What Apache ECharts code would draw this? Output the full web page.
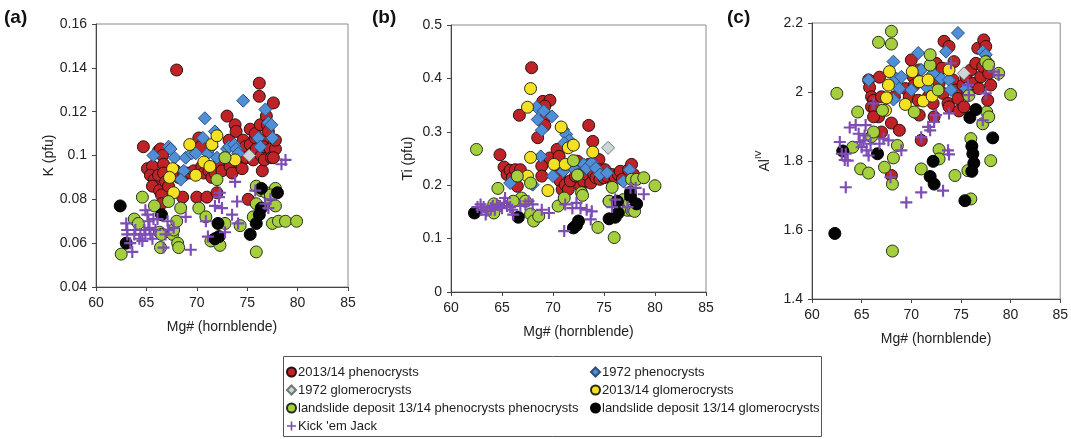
<!DOCTYPE html>
<html><head><meta charset="utf-8">
<script src="https://cdn.jsdelivr.net/npm/echarts@6/dist/echarts.min.js"></script>
<style>html,body{margin:0;padding:0;background:#fff}#c{width:1071px;height:439px}</style>
</head><body><div id="c"></div>
<script>
// ---------- Data (x = Mg#, y = value) ----------
const seriesNames = ['2013/14 phenocrysts','1972 phenocrysts','1972 glomerocrysts','2013/14 glomerocrysts','landslide deposit 13/14 phenocrysts phenocrysts','landslide deposit 13/14 glomerocrysts',"Kick 'em Jack"];
const xTicks = [60,65,70,75,80,85];

// Panel (a) K (pfu)
const aRed = [[64.7,0.104],[65.1,0.094],[65.6,0.095],[65.4,0.091],[65.8,0.089],[65.6,0.086],[66.2,0.102],[66.4,0.103],[66.6,0.100],[66.2,0.091],[66.3,0.084],[66.5,0.082],[66.7,0.096],[66.7,0.092],[66.9,0.088],[67.2,0.086],[67.9,0.093],[68.2,0.090],[68.6,0.081],[68.0,0.139],[68.7,0.091],[69.0,0.092],[69.4,0.092],[69.7,0.093],[70.0,0.081],[70.2,0.108],[70.4,0.104],[70.5,0.095],[70.7,0.092],[71.0,0.081],[71.2,0.093],[71.5,0.090],[71.8,0.092],[72.0,0.083],[72.2,0.096],[72.5,0.093],[72.8,0.099],[73.0,0.118],[73.2,0.107],[73.3,0.095],[73.5,0.092],[73.8,0.114],[73.9,0.111],[74.0,0.104],[74.1,0.097],[74.5,0.094],[74.6,0.107],[74.8,0.104],[74.9,0.099],[75.1,0.080],[75.3,0.112],[75.3,0.105],[75.5,0.101],[75.6,0.098],[75.8,0.108],[75.8,0.110],[75.9,0.103],[76.2,0.133],[76.2,0.127],[76.3,0.114],[76.4,0.100],[76.5,0.093],[76.6,0.107],[76.6,0.104],[76.7,0.098],[76.9,0.118],[77.0,0.114],[77.1,0.111],[77.3,0.103],[77.4,0.099],[77.6,0.124],[77.8,0.103],[77.8,0.107],[77.6,0.099],[66.5,0.078]];
const aBlue = [[65.7,0.100],[67.2,0.104],[67.4,0.103],[67.8,0.099],[68.7,0.093],[68.4,0.089],[68.9,0.099],[69.5,0.101],[69.9,0.101],[70.8,0.117],[70.6,0.108],[71.1,0.101],[71.5,0.104],[71.8,0.111],[72.0,0.099],[73.0,0.103],[73.2,0.104],[73.7,0.105],[73.9,0.103],[74.1,0.101],[74.6,0.125],[76.1,0.108],[76.8,0.121],[77.1,0.115],[77.4,0.114],[77.5,0.108],[76.3,0.104]];
const aGrey = [[75.2,0.100]];
const aYellow = [[67.6,0.094],[67.3,0.090],[67.7,0.083],[69.3,0.105],[69.9,0.091],[70.7,0.097],[71.3,0.095],[71.5,0.105],[72.0,0.109],[73.8,0.098]];
const aGreen = [[62.5,0.055],[63.8,0.071],[64.2,0.069],[64.6,0.081],[65.8,0.077],[66.3,0.065],[66.5,0.064],[66.4,0.058],[67.2,0.079],[67.6,0.064],[67.7,0.066],[68.0,0.070],[68.1,0.060],[68.2,0.058],[68.4,0.076],[70.2,0.076],[70.9,0.072],[72.0,0.089],[71.4,0.061],[71.9,0.062],[72.3,0.059],[72.8,0.069],[74.3,0.068],[72.8,0.099],[75.9,0.086],[75.9,0.078],[75.6,0.072],[75.9,0.056],[76.4,0.084],[76.9,0.083],[77.3,0.080],[77.8,0.077],[77.8,0.085],[77.5,0.069],[78.1,0.070],[78.8,0.070],[79.9,0.070],[77.3,0.082]];
const aBlack = [[62.4,0.077],[63.0,0.060],[66.5,0.073],[72.1,0.069],[71.8,0.062],[72.2,0.063],[75.3,0.064],[75.9,0.069],[76.4,0.085],[76.4,0.076],[76.2,0.073],[78.0,0.083]];
const aPurple = [[63.0,0.069],[63.1,0.066],[63.1,0.064],[63.4,0.060],[63.6,0.056],[63.8,0.064],[63.9,0.066],[64.3,0.062],[64.4,0.064],[64.6,0.061],[64.8,0.066],[64.9,0.075],[64.9,0.064],[65.1,0.073],[65.2,0.070],[65.3,0.067],[65.4,0.064],[65.6,0.062],[65.7,0.071],[65.9,0.066],[66.1,0.071],[66.9,0.064],[67.1,0.070],[67.2,0.066],[67.7,0.067],[66.7,0.058],[68.9,0.072],[69.4,0.057],[70.9,0.070],[71.1,0.063],[71.8,0.077],[72.2,0.081],[72.5,0.076],[72.8,0.065],[73.5,0.073],[73.8,0.088],[74.0,0.079],[74.1,0.069],[75.8,0.084],[76.8,0.078],[77.3,0.080],[77.1,0.076],[78.4,0.096],[78.8,0.098],[72.3,0.083]];

// Panel (b) Ti (pfu)
const bRed = [[67.9,0.420],[66.7,0.331],[69.0,0.357],[69.7,0.359],[69.2,0.348],[69.3,0.329],[68.5,0.289],[69.2,0.312],[73.5,0.312],[73.9,0.282],[64.8,0.257],[65.2,0.234],[65.5,0.220],[65.8,0.228],[66.0,0.214],[66.3,0.229],[66.5,0.217],[66.5,0.198],[66.8,0.229],[68.9,0.236],[68.9,0.217],[69.7,0.251],[70.2,0.239],[70.4,0.267],[70.6,0.254],[70.7,0.220],[70.7,0.208],[70.9,0.192],[71.2,0.201],[71.5,0.192],[71.7,0.208],[72.2,0.217],[72.4,0.245],[72.5,0.226],[72.7,0.198],[73.0,0.208],[73.3,0.220],[73.5,0.239],[73.7,0.204],[74.0,0.220],[74.2,0.214],[74.5,0.248],[74.6,0.229],[74.6,0.211],[75.0,0.214],[75.1,0.229],[75.3,0.217],[75.5,0.170],[75.8,0.220],[76.1,0.214],[76.4,0.220],[76.6,0.226],[76.8,0.211],[77.4,0.229],[77.7,0.239],[77.9,0.220]];
const bBlue = [[68.4,0.346],[68.5,0.323],[69.1,0.339],[68.9,0.303],[69.9,0.329],[71.0,0.304],[71.3,0.295],[71.6,0.284],[71.1,0.279],[68.8,0.254],[68.0,0.201],[65.8,0.204],[70.0,0.217],[71.0,0.226],[72.0,0.232],[72.5,0.220],[73.0,0.239],[73.3,0.232],[73.8,0.242],[74.2,0.232],[74.6,0.220],[75.3,0.223],[76.9,0.207],[77.5,0.229]];
const bGrey = [[75.4,0.270]];
const bYellow = [[67.8,0.381],[67.5,0.346],[67.8,0.252],[67.5,0.217],[69.5,0.190],[70.1,0.239],[70.8,0.309],[71.2,0.239],[71.5,0.270],[72.0,0.275],[73.9,0.262]];
const bGreen = [[62.5,0.267],[64.6,0.194],[66.5,0.217],[66.9,0.176],[67.8,0.204],[67.8,0.146],[68.1,0.133],[68.6,0.142],[64.2,0.165],[64.2,0.148],[66.1,0.170],[67.3,0.170],[70.5,0.161],[71.1,0.176],[72.0,0.246],[72.4,0.219],[72.8,0.186],[72.9,0.181],[74.4,0.121],[75.8,0.196],[75.5,0.170],[76.0,0.102],[76.9,0.173],[77.3,0.153],[77.5,0.167],[77.7,0.153],[78.0,0.151],[77.7,0.211],[78.2,0.211],[78.9,0.214],[80.0,0.199]];
const bBlack = [[62.3,0.148],[66.6,0.140],[72.0,0.120],[72.3,0.125],[72.5,0.133],[75.5,0.137],[76.1,0.140],[76.4,0.148],[76.3,0.170],[77.6,0.187],[77.6,0.179],[78.2,0.165]];
const bPurple = [[62.6,0.159],[62.9,0.164],[63.0,0.154],[63.2,0.159],[63.4,0.145],[63.5,0.152],[63.9,0.157],[64.1,0.161],[64.3,0.154],[64.5,0.164],[64.8,0.161],[65.0,0.157],[65.2,0.167],[65.3,0.176],[65.5,0.161],[65.8,0.159],[66.0,0.154],[66.1,0.145],[66.8,0.161],[67.3,0.164],[67.6,0.170],[68.0,0.164],[68.9,0.154],[69.6,0.148],[71.1,0.114],[71.2,0.164],[71.9,0.157],[72.3,0.167],[72.7,0.157],[73.3,0.154],[73.8,0.151],[73.7,0.136],[75.8,0.159],[76.1,0.173],[77.3,0.159],[77.6,0.195],[78.1,0.195],[78.9,0.183]];

// Panel (c) Al(IV)
const cRed = [[65.7,2.035],[65.8,2.013],[66.0,1.986],[66.2,1.976],[66.0,1.957],[66.3,1.952],[66.7,1.928],[66.2,1.928],[66.8,2.043],[67.0,1.986],[67.0,1.884],[68.0,1.910],[68.3,1.986],[68.8,1.889],[68.0,1.758],[69.4,2.010],[69.8,1.986],[70.0,2.093],[70.2,2.044],[70.3,2.020],[70.7,1.976],[70.8,1.933],[71.0,1.860],[70.8,2.064],[71.5,2.025],[71.7,1.986],[72.2,1.967],[72.3,1.928],[72.5,2.083],[72.8,2.025],[73.1,2.069],[73.2,1.996],[73.3,2.147],[73.8,2.132],[73.7,1.967],[73.8,1.957],[74.2,2.035],[74.3,2.088],[74.5,2.006],[74.7,1.981],[74.8,1.945],[75.2,2.020],[75.3,1.957],[75.5,2.044],[75.7,1.996],[76.0,2.064],[76.2,2.025],[76.5,2.083],[76.7,2.127],[76.8,2.010],[77.0,2.044],[77.3,2.151],[77.5,2.132],[77.7,1.976],[78.0,2.020],[77.2,2.074],[77.8,2.054]];
const cBlue = [[65.7,2.035],[68.2,2.088],[68.5,2.039],[68.8,2.010],[69.0,2.044],[68.2,1.978],[70.0,2.006],[70.7,2.113],[71.0,2.064],[71.5,2.015],[72.2,2.054],[73.0,2.039],[73.5,2.117],[73.8,2.035],[74.0,2.006],[74.7,2.171],[75.5,2.010],[77.2,2.117],[77.5,2.108],[77.7,2.088]];
const cGrey = [[75.3,2.054]];
const cYellow = [[67.8,2.059],[67.7,2.020],[67.5,1.983],[67.4,1.947],[69.4,1.964],[70.1,2.059],[70.8,2.030],[71.2,1.974],[71.7,2.035],[72.1,1.988],[73.8,2.064]];
const cGreen = [[62.5,1.996],[68.0,2.176],[66.7,2.144],[68.0,2.139],[64.6,1.942],[64.1,1.840],[64.9,1.777],[65.7,1.765],[66.0,1.871],[66.2,1.884],[67.1,1.947],[67.3,1.782],[68.1,1.733],[68.2,1.809],[68.6,1.845],[68.1,1.539],[70.3,1.942],[71.0,1.777],[71.9,2.078],[71.9,2.108],[72.7,2.006],[72.8,1.833],[72.8,1.806],[74.4,1.758],[75.8,1.990],[76.0,1.865],[75.7,1.772],[76.0,1.690],[77.2,1.908],[77.6,1.942],[77.8,1.928],[78.0,1.801],[77.5,2.088],[77.8,2.078],[78.8,2.054],[80.0,1.993]];
const cBlack = [[62.3,1.590],[63.1,1.829],[66.6,1.821],[72.2,1.799],[71.9,1.755],[72.3,1.733],[75.4,1.685],[75.9,1.926],[76.5,1.949],[76.1,1.843],[76.2,1.821],[76.3,1.794],[76.1,1.770],[78.2,1.867]];
const cPurple = [[62.8,1.855],[63.0,1.821],[63.3,1.803],[63.4,1.821],[63.6,1.801],[63.4,1.724],[63.8,1.897],[64.4,1.904],[64.7,1.879],[64.8,1.855],[65.0,1.840],[65.2,1.860],[65.3,1.874],[65.4,1.904],[65.5,1.831],[65.7,1.816],[65.9,1.850],[66.2,1.967],[66.8,1.850],[67.2,1.865],[67.7,1.860],[67.9,1.753],[69.0,1.831],[69.5,1.680],[71.0,1.709],[71.0,1.869],[71.7,1.899],[71.9,1.889],[72.5,1.933],[72.3,1.913],[73.2,1.714],[73.7,1.831],[73.8,1.819],[73.8,1.938],[74.0,2.083],[75.7,2.020],[75.8,1.991],[77.5,1.996],[77.2,1.918],[78.3,2.059],[78.8,2.049]];

const panels = [
  {label:'(a)', yName:'K (pfu)', yMin:0.04, yMax:0.16, yInt:0.02, data:[aRed,aBlue,aGrey,aYellow,aGreen,aBlack,aPurple]},
  {label:'(b)', yName:'Ti (pfu)', yMin:0, yMax:0.5, yInt:0.1, data:[bRed,bBlue,bGrey,bYellow,bGreen,bBlack,bPurple]},
  {label:'(c)', yName:'{a|Al}{s|IV}', yMin:1.4, yMax:2.2, yInt:0.2, data:[cRed,cBlue,cGrey,cYellow,cGreen,cBlack,cPurple]}
];

// ---------- Styles / layout ----------
const PLUS = 'path://M4.1,0 L5.9,0 L5.9,4.1 L10,4.1 L10,5.9 L5.9,5.9 L5.9,10 L4.1,10 L4.1,5.9 L0,5.9 L0,4.1 L4.1,4.1 Z';
const styles = [
  {symbol:'circle', size:12, color:'#BF2327', border:'#2a1010'},
  {symbol:'diamond', size:13, color:'#4F8FD8', border:'#2d4f78'},
  {symbol:'diamond', size:13, color:'#CDD6D6', border:'#6f7777'},
  {symbol:'circle', size:12, color:'#F4E123', border:'#2a2a10'},
  {symbol:'circle', size:12, color:'#A6CF3E', border:'#26301a'},
  {symbol:'circle', size:12, color:'#050505', border:'#000'},
  {symbol:PLUS, size:12, color:'#7E4DB3', border:'#7E4DB3'}
];
const grids = [
  {left:96, top:24, width:252, height:263},
  {left:451, top:25, width:255, height:267},
  {left:812, top:23, width:250, height:276}
];
const yNameGap = [40, 36, 40];
const FONT = '"Liberation Sans", Arial, sans-serif';

const option = {
  animation:false,
  textStyle:{fontFamily:FONT},
  grid: grids.map(g => Object.assign({show:true, borderColor:'#8a8a8a', borderWidth:1, containLabel:false}, g)),
  xAxis: grids.map((g,i) => ({
    gridIndex:i, type:'value', min:60, max:85, interval:5,
    name:'Mg# (hornblende)', nameLocation:'middle', nameGap:33,
    nameTextStyle:{fontSize:14, color:'#222', fontFamily:FONT},
    axisLine:{show:true, onZero:false, lineStyle:{color:'#444', width:1}},
    axisTick:{show:true, inside:false, length:4, lineStyle:{color:'#444'}},
    axisLabel:{fontSize:14, color:'#222', margin:9, fontFamily:FONT},
    splitLine:{show:false}
  })),
  yAxis: panels.map((p,i) => ({
    gridIndex:i, type:'value', min:p.yMin, max:p.yMax, interval:p.yInt,
    name:p.yName, nameLocation:'middle', nameGap:yNameGap[i], nameRotate:90,
    nameTextStyle:{fontSize:14, color:'#222', fontFamily:FONT,
      rich:{a:{fontSize:14, color:'#222', fontFamily:FONT, lineHeight:18, verticalAlign:'bottom'},
            s:{fontSize:9, color:'#222', fontFamily:FONT, lineHeight:18, verticalAlign:'top', padding:[0,0,6,0]}}},
    axisLine:{show:true, onZero:false, lineStyle:{color:'#444', width:1}},
    axisTick:{show:true, inside:false, length:4, lineStyle:{color:'#444'}},
    axisLabel:{fontSize:14, color:'#222', margin:9, fontFamily:FONT},
    splitLine:{show:false}
  })),
  legend:[
    {orient:'vertical', left:286, top:365, padding:0, itemGap:4, itemWidth:9, itemHeight:9, selectedMode:false,
     textStyle:{fontSize:13, color:'#222', fontFamily:FONT, lineHeight:14, padding:[0,0,0,-3]},
     data:[seriesNames[0], seriesNames[2], seriesNames[4], seriesNames[6]]},
    {orient:'vertical', left:590, top:365, padding:0, itemGap:4, itemWidth:9, itemHeight:9, selectedMode:false,
     textStyle:{fontSize:13, color:'#222', fontFamily:FONT, lineHeight:14, padding:[0,0,0,-3]},
     data:[seriesNames[1], seriesNames[3], seriesNames[5]]}
  ],
  graphic:[
    {type:'rect', shape:{x:283.5, y:356.5, width:538, height:80}, style:{fill:'none', stroke:'#555', lineWidth:1}},
    {type:'text', left:4, top:8, style:{text:'(a)', font:'bold 19px '+FONT, fill:'#111'}},
    {type:'text', left:372, top:8, style:{text:'(b)', font:'bold 19px '+FONT, fill:'#111'}},
    {type:'text', left:727, top:8, style:{text:'(c)', font:'bold 19px '+FONT, fill:'#111'}}
  ],
  series:[]
};

panels.forEach((p,i) => {
  p.data.forEach((d,k) => {
    const s = styles[k];
    option.series.push({
      type:'scatter', name:seriesNames[k], xAxisIndex:i, yAxisIndex:i,
      symbol:s.symbol, symbolSize:s.size, data:d,
      itemStyle:{color:s.color, borderColor:s.border, borderWidth: k===6 ? 0 : 1, opacity:1},
      emphasis:{disabled:true}, z: 2 + k
    });
  });
});

const chart = echarts.init(document.getElementById('c'), null, {renderer:'canvas'});
chart.setOption(option);
</script>
</body></html>
